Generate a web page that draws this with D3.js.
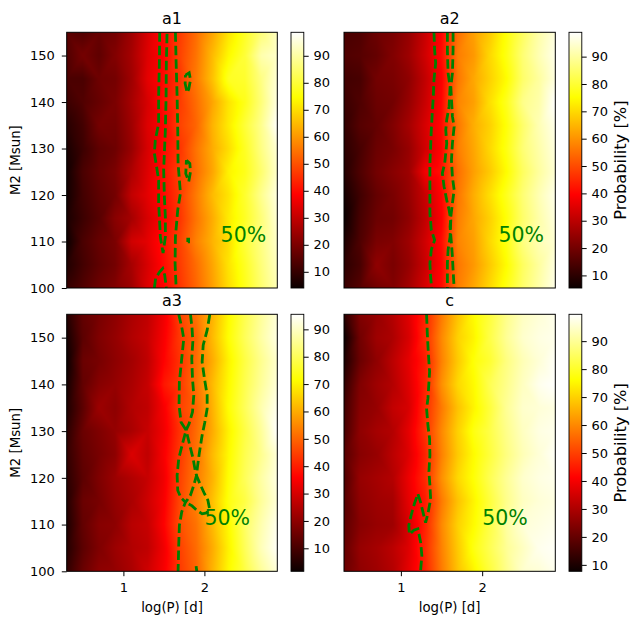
<!DOCTYPE html>
<html>
<head>
<meta charset="utf-8">
<script src="https://cdn.jsdelivr.net/npm/d3@7"></script>
<style>
  body { margin: 0; background: #fff; }
  svg { display: block; }
  text { font-family: "DejaVu Sans", sans-serif; fill: #000; }
</style>
</head>
<body>
<div id="chart"></div>
<script>
// grid: log(P) columns, M2 rows (top row first)
const logP = [0.3, 0.5, 0.7, 0.9, 1.1, 1.3, 1.5, 1.7, 1.9, 2.1, 2.3, 2.5, 2.7, 2.9];
const m2 = [155, 150, 145, 140, 135, 130, 125, 120, 115, 110, 105, 100];

const probA1 = [
  [15, 14, 17, 19, 25, 33, 40, 47, 54, 62, 71, 78, 86, 93],
  [14, 19, 16, 21, 26, 34, 39, 48, 55, 65, 74, 80, 91, 94],
  [13, 13, 18, 19, 25, 35, 40, 46, 56, 66, 78, 79, 87, 95],
  [11, 14, 17, 20, 26, 33, 41, 47, 54, 62, 71, 77, 86, 96],
  [8, 12, 19, 19, 25, 34, 39, 48, 53, 64, 72, 80, 88, 98.7],
  [6, 11, 16, 18, 24, 33, 40, 46, 55, 63, 70, 78, 87, 95],
  [5, 13, 17, 20, 27, 34, 41, 48, 54, 62, 73, 77, 85, 94],
  [5, 12, 16, 19, 30, 35, 40, 47, 56, 65, 71, 79, 88, 96],
  [6, 11, 15, 22, 26, 33, 39, 46, 55, 63, 72, 78, 86, 95],
  [4, 13, 17, 20, 32, 35, 41, 48, 57, 64, 70, 80, 87, 94],
  [7, 12, 16, 19, 26, 33, 40, 47, 54, 62, 71, 78, 86, 93],
  [10, 14, 18, 21, 25, 34, 39, 46, 53, 61, 70, 77, 85, 92]
];

const probA2 = [
  [14, 15, 19, 21, 25, 32, 40, 55, 62, 68, 76, 84, 91, 96],
  [15, 16, 18, 22, 26, 33, 41, 57, 61, 70, 77, 86, 92, 97],
  [13, 14, 20, 21, 24, 31, 39, 56, 63, 69, 75, 85, 90, 96],
  [12, 15, 19, 20, 25, 32, 40, 58, 62, 71, 78, 88, 91, 98.9],
  [11, 16, 18, 22, 27, 34, 41, 56, 64, 69, 76, 85, 92, 97],
  [10, 14, 19, 21, 25, 33, 40, 57, 63, 70, 77, 86, 91, 96],
  [9, 15, 20, 23, 26, 38, 42, 55, 62, 68, 75, 84, 90, 95],
  [7, 13, 18, 21, 25, 32, 40, 56, 64, 71, 78, 86, 92, 97],
  [5.4, 14, 19, 20, 24, 31, 39, 57, 63, 69, 76, 85, 91, 96],
  [8, 15, 21, 22, 26, 33, 41, 58, 62, 70, 77, 87, 92, 95],
  [10, 14, 24, 21, 25, 32, 40, 56, 61, 68, 75, 84, 90, 96],
  [12, 16, 20, 22, 27, 34, 41, 57, 63, 70, 77, 85, 91, 97]
];

const probA3 = [
  [5, 14, 17, 20, 24, 27, 34, 45, 52, 61, 71, 79, 86, 92],
  [3, 13, 18, 21, 25, 28, 35, 44, 50, 62, 72, 80, 87, 93],
  [1.6, 15, 17, 20, 23, 27, 36, 43, 51, 60, 70, 78, 85, 91],
  [3, 14, 19, 21, 24, 28, 39, 44, 52, 62, 71, 79, 86, 92],
  [4, 13, 22, 20, 25, 27, 35, 45, 50, 61, 72, 80, 88, 94],
  [6, 15, 18, 21, 24, 28, 34, 43, 51, 60, 70, 78, 86, 95.5],
  [7, 14, 17, 20, 31, 27, 35, 44, 52, 62, 71, 79, 85, 92],
  [6, 13, 18, 22, 25, 28, 34, 45, 53, 61, 72, 80, 87, 93],
  [5, 15, 17, 21, 24, 29, 35, 46, 54, 63, 73, 78, 86, 92],
  [4, 14, 19, 20, 26, 28, 36, 47, 52, 62, 71, 81, 88, 94],
  [5, 13, 18, 22, 25, 27, 34, 45, 51, 60, 70, 80, 89, 95],
  [7, 15, 20, 21, 24, 29, 35, 44, 50, 61, 71, 78, 86, 92]
];

const probC = [
  [12, 24, 27, 31, 37, 46, 58, 68, 76, 82, 89, 94, 96, 98],
  [7.7, 22, 28, 30, 36, 47, 60, 70, 75, 83, 90, 95, 97, 98],
  [10, 21, 26, 32, 38, 45, 59, 69, 77, 81, 88, 93, 96, 99],
  [13, 24, 28, 31, 37, 46, 61, 71, 76, 84, 89, 94, 98, 99.6],
  [15, 25, 27, 33, 36, 47, 58, 68, 75, 82, 90, 95, 96, 97],
  [16, 26, 29, 31, 38, 48, 60, 70, 78, 83, 89, 94, 97, 98],
  [18, 25, 27, 32, 37, 46, 59, 69, 76, 82, 88, 93, 96, 99],
  [17, 27, 29, 31, 39, 47, 61, 71, 77, 84, 90, 95, 97, 98],
  [18, 26, 28, 29, 38, 45, 58, 68, 75, 82, 89, 94, 96, 97],
  [19, 25, 27, 28, 36, 46, 60, 70, 76, 83, 91, 96, 97, 98],
  [20, 27, 29, 32, 37, 47, 59, 69, 78, 84, 90, 94, 98, 99],
  [21, 26, 28, 31, 38, 46, 58, 68, 75, 82, 89, 95, 96, 98]
];

// 50% contour lines, [logP, M2]
const contourA1 = [
  [[1.448, 155], [1.444, 148.4], [1.435, 141.2], [1.435, 135.4], [1.394, 131.8], [1.382, 129.0], [1.403, 126.8], [1.435, 123.2], [1.435, 118.2], [1.444, 115.3], [1.456, 111.0], [1.490, 107.5], [1.518, 111.0], [1.518, 115.3], [1.506, 119.6], [1.497, 125.4], [1.506, 129.0], [1.518, 134.0], [1.527, 141.2], [1.530, 148.4], [1.539, 155]],
  [[1.642, 155], [1.651, 148.4], [1.663, 141.2], [1.671, 134.0], [1.675, 126.8], [1.704, 120.4], [1.671, 116.8], [1.642, 111.0], [1.638, 105.3], [1.651, 100]],
  [[1.382, 100], [1.398, 102.1], [1.448, 103.5], [1.485, 104.2], [1.510, 102.8], [1.530, 100]],
  [[1.766, 145.8], [1.812, 146.3], [1.828, 144.8], [1.807, 142.8], [1.787, 142.0], [1.762, 144.0], [1.766, 145.8]],
  [[1.778, 127.5], [1.820, 126.8], [1.828, 125.0], [1.807, 122.9], [1.770, 124.6], [1.778, 127.5]],
  [[1.795, 109.9], [1.805, 109.9], [1.805, 110.5], [1.795, 110.5], [1.795, 109.9]]
];

const contourA2 = [
  [[1.407, 155], [1.415, 151.2], [1.428, 148.4], [1.407, 144.8], [1.399, 141.2], [1.386, 137.6], [1.374, 134.0], [1.366, 130.4], [1.357, 126.8], [1.357, 123.2], [1.357, 119.6], [1.357, 116.1], [1.374, 112.5], [1.415, 110.3], [1.374, 108.2], [1.357, 105.3], [1.366, 102.4], [1.378, 100]],
  [[1.572, 155], [1.572, 151.2], [1.581, 146.2], [1.605, 143.3], [1.593, 139.0], [1.564, 136.2], [1.552, 134.0], [1.564, 131.1], [1.539, 126.8], [1.510, 124.7], [1.531, 121.8], [1.564, 118.9], [1.593, 116.8], [1.614, 114.6], [1.605, 111.0], [1.581, 108.2], [1.572, 105.3], [1.572, 100]],
  [[1.642, 155], [1.642, 151.2], [1.634, 146.2], [1.614, 143.3], [1.634, 136.9], [1.655, 134.7], [1.634, 131.1], [1.622, 127.5], [1.634, 123.9], [1.655, 121.1], [1.634, 118.2], [1.614, 115.3], [1.605, 113.2], [1.622, 109.6], [1.634, 106.7], [1.642, 103.9], [1.655, 100]]
];

const contourA3 = [
  [[1.683, 155], [1.724, 151.9], [1.745, 149.8], [1.720, 145.5], [1.691, 140.5], [1.687, 135.5], [1.712, 131.9], [1.774, 130.2], [1.729, 127.3], [1.683, 124.1], [1.663, 120.5], [1.671, 117.3], [1.712, 115.7], [1.766, 114.8], [1.720, 112.7], [1.691, 109.8], [1.683, 105.6], [1.675, 100]],
  [[1.828, 155], [1.848, 151.9], [1.857, 149.1], [1.844, 145.5], [1.853, 141.2], [1.869, 137.7], [1.853, 134.1], [1.811, 131.6], [1.774, 130.2], [1.819, 127.0], [1.861, 124.1], [1.886, 121.6], [1.902, 120.5], [1.869, 118.4], [1.828, 116.3], [1.786, 115.2], [1.766, 114.8]],
  [[2.067, 155], [2.034, 151.6], [1.985, 148.4], [1.972, 144.8], [2.001, 141.2], [2.034, 137.7], [2.034, 134.8], [2.005, 131.9], [1.972, 129.1], [1.939, 125.5], [1.914, 122.3], [1.902, 120.5], [1.943, 118.8], [2.001, 116.6], [2.043, 115.2], [2.063, 113.4], [2.026, 112.5], [1.972, 112.3], [1.910, 113.0], [1.848, 114.0], [1.766, 114.8]],
  [[1.898, 101.1], [1.906, 100]]
];

const contourC = [
  [[1.316, 155], [1.324, 151.2], [1.337, 146.9], [1.353, 142.7], [1.333, 137.0], [1.316, 134.8], [1.333, 131.2], [1.353, 128.4], [1.357, 124.8], [1.345, 121.3], [1.357, 118.4], [1.366, 115.5], [1.337, 112.7], [1.304, 110.4], [1.271, 112.7], [1.242, 114.8], [1.209, 116.6], [1.167, 114.5], [1.126, 112.0], [1.097, 109.8], [1.105, 107.9], [1.159, 108.8], [1.209, 109.1], [1.242, 106.3], [1.258, 103.4], [1.242, 100]]
];

const titles = ["a1", "a2", "a3", "c"];
const labelAt = [[2.2, 110], [2.2, 110], [2.0, 110], [2.0, 110]];
const xTicks = [1, 2];
const yTicks = [100, 110, 120, 130, 140, 150];
const cbarTicks = [10, 20, 30, 40, 50, 60, 70, 80, 90];

// ---- layout ----
const W = 642, H = 624;
const cols = [[66.7, 277.3], [344, 555.3]];
const rows = [[32.3, 288], [314.3, 571.3]];
const green = "#008000";

const panels = [
  { data: probA1, lines: contourA1, c: 0, r: 0 },
  { data: probA2, lines: contourA2, c: 1, r: 0 },
  { data: probA3, lines: contourA3, c: 0, r: 1 },
  { data: probC, lines: contourC, c: 1, r: 1 }
];

const svg = d3.select("#chart").append("svg")
  .attr("width", W).attr("height", H);
const defs = svg.append("defs");

// matplotlib "hot" colour ramp
function hotScale(lo, hi) {
  const s = hi - lo;
  return d3.scaleLinear()
    .domain([lo, lo + 0.365079 * s, lo + 0.746032 * s, hi])
    .range(["#0b0000", "#ff0000", "#ffff00", "#ffffff"])
    .interpolate(d3.interpolateRgb)
    .clamp(true);
}

const colIdx = d3.scaleLinear().domain([logP[0], logP[logP.length - 1]]).range([0, logP.length - 1]);
const rowIdx = d3.scaleLinear().domain([m2[0], m2[m2.length - 1]]).range([0, m2.length - 1]);

// linear interpolation on a triangulated grid (alternating diagonals)
function sample(grid, lp, m) {
  const fx = colIdx(lp), fy = rowIdx(m);
  const i = Math.max(0, Math.min(logP.length - 2, Math.floor(fx)));
  const j = Math.max(0, Math.min(m2.length - 2, Math.floor(fy)));
  const tx = fx - i, ty = fy - j;
  const v00 = grid[j][i], v10 = grid[j][i + 1], v01 = grid[j + 1][i], v11 = grid[j + 1][i + 1];
  if ((i + j) % 2 === 0) {
    if (tx >= ty) return v00 + tx * (v10 - v00) + ty * (v11 - v10);
    return v00 + ty * (v01 - v00) + tx * (v11 - v01);
  }
  if (tx + ty <= 1) return v00 + tx * (v10 - v00) + ty * (v01 - v00);
  return v11 + (1 - tx) * (v01 - v11) + (1 - ty) * (v10 - v11);
}

panels.forEach((p, k) => {
  const [x0, x1] = cols[p.c];
  const [y0, y1] = rows[p.r];
  const w = x1 - x0, h = y1 - y0;

  const x = d3.scaleLinear().domain([0.3, 2.9]).range([x0, x1]);
  const y = d3.scaleLinear().domain([100, 155]).range([y1, y0]);

  const ext = d3.extent(p.data.flat());
  const color = hotScale(ext[0], ext[1]);

  // heat map, painted pixel by pixel on a canvas
  const cw = Math.round(w) * 2, ch = Math.round(h) * 2;
  const canvas = document.createElement("canvas");
  canvas.width = cw; canvas.height = ch;
  const ctx = canvas.getContext("2d");
  const img = ctx.createImageData(cw, ch);
  const px = d3.scaleLinear().domain([0, cw]).range([x0, x1]);
  const py = d3.scaleLinear().domain([0, ch]).range([y0, y1]);
  for (let jj = 0; jj < ch; jj++) {
    const m = y.invert(py(jj + 0.5));
    for (let ii = 0; ii < cw; ii++) {
      const v = sample(p.data, x.invert(px(ii + 0.5)), m);
      const c = d3.rgb(color(v));
      const o = (jj * cw + ii) * 4;
      img.data[o] = c.r; img.data[o + 1] = c.g; img.data[o + 2] = c.b; img.data[o + 3] = 255;
    }
  }
  ctx.putImageData(img, 0, 0);

  const g = svg.append("g");
  g.append("image")
    .attr("href", canvas.toDataURL())
    .attr("x", x0).attr("y", y0)
    .attr("width", w).attr("height", h)
    .attr("preserveAspectRatio", "none");

  // contour lines
  const clipId = "clip" + k;
  defs.append("clipPath").attr("id", clipId)
    .append("rect").attr("x", x0).attr("y", y0).attr("width", w).attr("height", h);
  const line = d3.line().x(d => x(d[0])).y(d => y(d[1]));
  g.append("g").attr("clip-path", `url(#${clipId})`)
    .selectAll("path").data(p.lines).enter().append("path")
    .attr("d", line)
    .attr("fill", "none")
    .attr("stroke", green)
    .attr("stroke-width", 2.8)
    .attr("stroke-dasharray", "9.5,4");

  g.append("text")
    .attr("x", x(labelAt[k][0])).attr("y", y(labelAt[k][1]))
    .attr("font-size", "20.5px")
    .style("fill", green)
    .text("50%");

  // spines
  g.append("rect")
    .attr("x", x0).attr("y", y0).attr("width", w).attr("height", h)
    .attr("fill", "none").attr("stroke", "#000").attr("stroke-width", 1);

  g.append("text")
    .attr("x", (x0 + x1) / 2).attr("y", y0 - 8.3)
    .attr("text-anchor", "middle")
    .attr("font-size", "16px")
    .text(titles[k]);

  if (p.c === 0) {
    const ay = g.append("g").attr("transform", `translate(${x0},0)`)
      .call(d3.axisLeft(y).tickValues(yTicks).tickSize(4.9).tickPadding(7));
    ay.select(".domain").remove();
    ay.selectAll("text").attr("font-size", "13px").attr("font-family", null);
    ay.selectAll("line").attr("stroke-width", 1);
    g.append("text")
      .attr("transform", `translate(20,${(y0 + y1) / 2}) rotate(-90)`)
      .attr("text-anchor", "middle")
      .attr("font-size", "13.3px")
      .text("M2 [Msun]");
  }
  if (p.r === 1) {
    const ax = g.append("g").attr("transform", `translate(0,${y1})`)
      .call(d3.axisBottom(x).tickValues(xTicks).tickFormat(d3.format("d"))
        .tickSize(4.9).tickPadding(6.3));
    ax.select(".domain").remove();
    ax.selectAll("text").attr("font-size", "13px").attr("font-family", null);
    ax.selectAll("line").attr("stroke-width", 1);
    g.append("text")
      .attr("x", (x0 + x1) / 2).attr("y", 612.3)
      .attr("text-anchor", "middle")
      .attr("font-size", "13.3px")
      .text("log(P) [d]");
  }

  // colour bar
  const cx0 = x1 + 13.7, cbw = 12.8;
  const gradId = "grad" + k;
  const grad = defs.append("linearGradient").attr("id", gradId)
    .attr("x1", 0).attr("y1", 1).attr("x2", 0).attr("y2", 0);
  color.domain().forEach((d, i) => {
    grad.append("stop")
      .attr("offset", (d - ext[0]) / (ext[1] - ext[0]))
      .attr("stop-color", color.range()[i]);
  });
  g.append("rect")
    .attr("x", cx0).attr("y", y0).attr("width", cbw).attr("height", h)
    .attr("fill", `url(#${gradId})`)
    .attr("stroke", "#000").attr("stroke-width", 0.9);
  const cs = d3.scaleLinear().domain(ext).range([y1, y0]);
  const ac = g.append("g").attr("transform", `translate(${cx0 + cbw},0)`)
    .call(d3.axisRight(cs).tickValues(cbarTicks).tickSize(4.9).tickPadding(4.8));
  ac.select(".domain").remove();
  ac.selectAll("text").attr("font-size", "13px").attr("font-family", null);
  ac.selectAll("line").attr("stroke-width", 1);

  if (p.c === 1) {
    g.append("text")
      .attr("transform", `translate(625.5,${(y0 + y1) / 2}) rotate(-90)`)
      .attr("text-anchor", "middle")
      .attr("font-size", "16.3px")
      .text("Probability [%]");
  }
});
</script>
</body>
</html>
